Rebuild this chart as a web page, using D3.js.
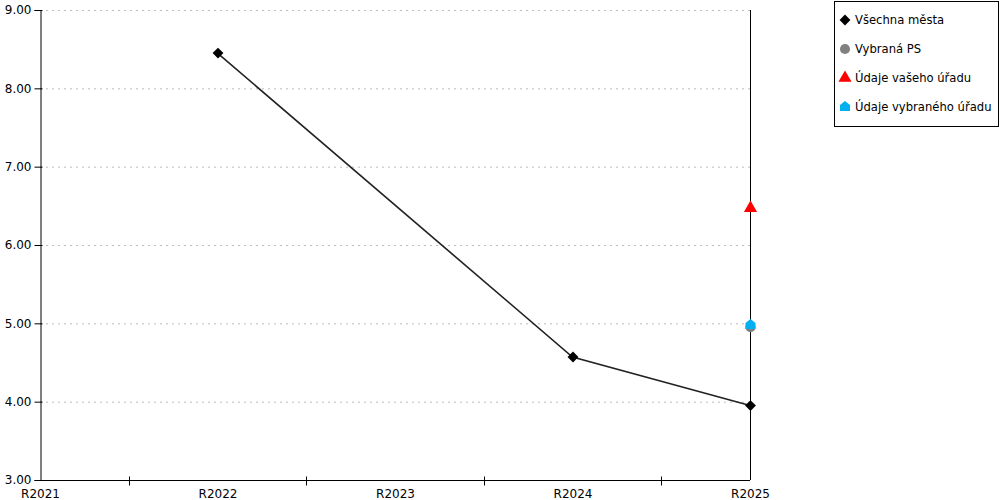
<!DOCTYPE html>
<html><head><meta charset="utf-8">
<script src="https://cdn.jsdelivr.net/npm/d3@7"></script>
<style>body{margin:0;background:#fff}svg{display:block;font-family:"DejaVu Sans",Verdana,sans-serif}</style>
</head><body><svg id="c" width="1000" height="500"></svg>
<script>
const categories = ["R2021","R2022","R2023","R2024","R2025"];
const yTicks = [3,4,5,6,7,8,9];
const allCities = [null, 8.45, null, 4.57, 3.95];
const selectedPS = [null, null, null, null, 4.95];
const yourOffice = [null, null, null, null, 6.47];
const selectedOffice = [null, null, null, null, 4.98];
const legendLabels = ["Všechna města","Vybraná PS","Údaje vašeho úřadu","Údaje vybraného úřadu"];

const svg = d3.select("#c");
const x = d3.scalePoint().domain(categories).range([40,750]);
const y = d3.scaleLinear().domain([3,9]).range([480,10]);

// grid
svg.append("g").selectAll("line").data(yTicks.filter(d=>d>3)).join("line")
  .attr("x1",40).attr("x2",750).attr("y1",d=>y(d)+0.5).attr("y2",d=>y(d)+0.5)
  .attr("stroke","#bbb").attr("stroke-dasharray","2,4");

// y axis
const ya = svg.append("g").attr("transform","translate(40.5,0)")
  .call(d3.axisLeft(y).tickValues(yTicks).tickFormat(d3.format(".2f")).tickSize(6).tickPadding(3));
ya.select(".domain").attr("stroke","#000");
ya.selectAll(".tick line").attr("x2",2).attr("x1",-6);
ya.selectAll("text").attr("font-size",12).attr("fill","#000").attr("font-family","DejaVu Sans, Verdana, sans-serif");

// x axis
const xa = svg.append("g").attr("transform","translate(0,480.5)")
  .call(d3.axisBottom(x).tickSize(5).tickPadding(4));
xa.select(".domain").attr("stroke","#000").attr("d","M40,0H750");
xa.selectAll(".tick line").remove();
xa.selectAll("text").attr("font-size",12).attr("fill","#000").attr("font-family","DejaVu Sans, Verdana, sans-serif");
const step = x.step();
const mids = categories.slice(0,-1).map(c=>x(c)+step/2);
xa.selectAll("line.minor").data(mids).join("line").attr("class","minor")
  .attr("x1",d=>Math.round(d)+0.5).attr("x2",d=>Math.round(d)+0.5).attr("y1",-4).attr("y2",5).attr("stroke","#000");

// right border line
svg.append("line").attr("x1",750.5).attr("x2",750.5).attr("y1",10).attr("y2",480).attr("stroke","#000");

// line series
const pts = categories.map((c,i)=>({c,v:allCities[i]})).filter(d=>d.v!=null);
svg.append("path").datum(pts)
  .attr("d",d3.line().x(d=>x(d.c)).y(d=>y(d.v)))
  .attr("fill","none").attr("stroke","#222").attr("stroke-width",1.6);

const diamond = d3.symbol().type(d3.symbolDiamond2).size(75);
const circle = d3.symbol().type(d3.symbolCircle).size(80);
const tri = d3.symbol().type(d3.symbolTriangle).size(75);
const house = "M0,-6L5,-2L5,4L-5,4L-5,-2Z";

function scatter(vals, pathGen, fill){
  svg.append("g").selectAll("path").data(categories.map((c,i)=>({c,v:vals[i]})).filter(d=>d.v!=null)).join("path")
    .attr("transform",d=>`translate(${x(d.c)+0.5},${y(d.v)})`).attr("d",pathGen).attr("fill",fill);
}
scatter(allCities, diamond, "#000");
scatter(selectedPS, circle, "#808080");
scatter(yourOffice, tri, "#ff0000");
scatter(selectedOffice, house, "#00b0f0");

// legend
const lg = svg.append("g");
lg.append("rect").attr("x",834.5).attr("y",1.5).attr("width",164).attr("height",125).attr("fill","#fff").attr("stroke","#000");
const syms = [[diamond,"#000"],[circle,"#808080"],[tri,"#ff0000"],[house,"#00b0f0"]];
const legendY = [19,48,77,106];
legendLabels.forEach((t,i)=>{
  lg.append("path").attr("transform",`translate(845,${legendY[i]+1})`).attr("d",syms[i][0]).attr("fill",syms[i][1]);
  lg.append("text").attr("x",855).attr("y",legendY[i]+5).attr("font-size",11.6).text(t);
});
</script></body></html>
